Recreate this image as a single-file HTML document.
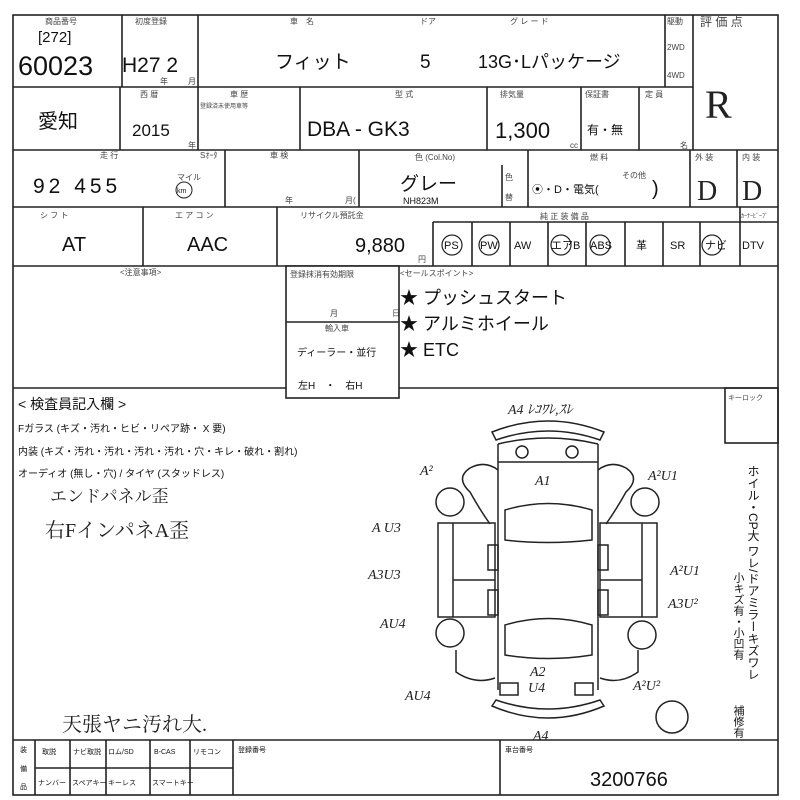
<!DOCTYPE html>
<html><head><meta charset="utf-8"><style>
body{margin:0;background:#fff;}
svg{display:block}
text{font-family:"Liberation Sans","Noto Sans CJK JP",sans-serif;fill:#111}
.s{font-size:8px;fill:#444}
.h{font-family:"Liberation Serif","Noto Serif CJK SC",serif;fill:#222}
</style></head><body>
<svg width="800" height="800" viewBox="0 0 800 800" xmlns="http://www.w3.org/2000/svg">
<g stroke="#222" stroke-width="1.6" fill="none">
<rect x="13" y="15" width="765" height="780"/>
<line x1="13" y1="87" x2="693" y2="87"/>
<line x1="13" y1="150" x2="778" y2="150"/>
<line x1="13" y1="207" x2="778" y2="207"/>
<line x1="13" y1="266" x2="778" y2="266"/>
<line x1="13" y1="388" x2="778" y2="388"/>
<line x1="13" y1="740" x2="778" y2="740"/>
<!-- row1 -->
<line x1="122" y1="15" x2="122" y2="87"/><line x1="198" y1="15" x2="198" y2="87"/>
<line x1="665" y1="15" x2="665" y2="87"/><line x1="693" y1="15" x2="693" y2="150"/>
<!-- row2 -->
<line x1="120" y1="87" x2="120" y2="150"/><line x1="198" y1="87" x2="198" y2="150"/>
<line x1="300" y1="87" x2="300" y2="150"/><line x1="487" y1="87" x2="487" y2="150"/>
<line x1="581" y1="87" x2="581" y2="150"/><line x1="639" y1="87" x2="639" y2="150"/>
<!-- row3 -->
<line x1="225" y1="150" x2="225" y2="207"/><line x1="359" y1="150" x2="359" y2="207"/>
<line x1="502" y1="165" x2="502" y2="207"/><line x1="528" y1="150" x2="528" y2="207"/>
<line x1="690" y1="150" x2="690" y2="207"/><line x1="737" y1="150" x2="737" y2="207"/>
<!-- row4 -->
<line x1="143" y1="207" x2="143" y2="266"/><line x1="277" y1="207" x2="277" y2="266"/>
<line x1="433" y1="222" x2="433" y2="266"/><line x1="433" y1="222" x2="778" y2="222"/>
<line x1="472" y1="222" x2="472" y2="266"/><line x1="510" y1="222" x2="510" y2="266"/>
<line x1="548" y1="222" x2="548" y2="266"/><line x1="586" y1="222" x2="586" y2="266"/>
<line x1="625" y1="222" x2="625" y2="266"/><line x1="663" y1="222" x2="663" y2="266"/>
<line x1="700" y1="222" x2="700" y2="266"/><line x1="740" y1="207" x2="740" y2="266"/>
<!-- notes box -->
<rect x="286" y="266" width="113" height="132" fill="#fff"/>
<line x1="286" y1="322" x2="399" y2="322"/>
<rect x="725" y="388" width="53" height="55"/>
<line x1="760" y1="443" x2="760" y2="740" stroke-width="0"/>
<!-- bottom -->
<line x1="35" y1="740" x2="35" y2="795"/><line x1="70" y1="740" x2="70" y2="795"/>
<line x1="106" y1="740" x2="106" y2="795"/><line x1="150" y1="740" x2="150" y2="795"/>
<line x1="190" y1="740" x2="190" y2="795"/><line x1="233" y1="740" x2="233" y2="795"/>
<line x1="35" y1="768" x2="233" y2="768"/>
<line x1="500" y1="740" x2="500" y2="795"/>
</g>
<!-- small headers -->
<text class="s" x="45" y="24">商品番号</text><text class="s" x="135" y="24">初度登録</text>
<text class="s" x="290" y="24">車　名</text><text class="s" x="420" y="24">ドア</text><text class="s" x="510" y="24">グ レ ー ド</text>
<text class="s" x="667" y="24">駆動</text><text class="s" x="700" y="26" style="font-size:12px">評 価 点</text>
<text class="s" x="667" y="50">2WD</text><text class="s" x="667" y="78">4WD</text>
<text class="s" x="160" y="84">年</text><text class="s" x="188" y="84">月</text>
<text class="s" x="140" y="97">西 暦</text><text class="s" x="230" y="97">車 歴</text><text class="s" x="200" y="108" style="font-size:6px">登録済未使用車等</text>
<text class="s" x="395" y="97">型 式</text><text class="s" x="500" y="97">排気量</text><text class="s" x="585" y="97">保証書</text><text class="s" x="645" y="97">定 員</text>
<text class="s" x="188" y="148">年</text><text class="s" x="570" y="148">cc</text><text class="s" x="680" y="148">名</text>
<text class="s" x="100" y="158">走 行</text><text class="s" x="200" y="158">Sｵｰﾀ</text><text class="s" x="270" y="158">車 検</text>
<text class="s" x="415" y="160">色 (Col.No)</text><text class="s" x="590" y="160">燃 料</text>
<text class="s" x="695" y="160">外 装</text><text class="s" x="742" y="160">内 装</text>
<text class="s" x="285" y="203">年</text><text class="s" x="345" y="203">月(</text><text class="s" x="505" y="180">色</text><text class="s" x="505" y="200">替</text>
<text class="s" x="40" y="218">シ フ ト</text><text class="s" x="175" y="218">エ ア コ ン</text><text class="s" x="300" y="218">リサイクル預託金</text>
<text class="s" x="540" y="219">純 正 装 備 品</text><text class="s" x="741" y="218" style="font-size:6px">ｶｰﾅｰﾋﾞｰﾌﾞ</text>
<text class="s" x="120" y="275">&lt;注意事項&gt;</text><text class="s" x="290" y="277">登録抹消有効期限</text>
<text class="s" x="400" y="276">&lt;セールスポイント&gt;</text>
<text class="s" x="330" y="316">月</text><text class="s" x="392" y="316">日</text><text class="s" x="325" y="331">輸入車</text>
<text x="297" y="356" style="font-size:10px">ディーラー・並行</text><text x="298" y="389" style="font-size:10px">左H　・　右H</text>
<text class="s" x="728" y="400" style="font-size:7px">キーロック</text>
<!-- values -->
<text x="38" y="42" style="font-size:15px">[272]</text>
<text x="18" y="75" style="font-size:27px">60023</text>
<text x="122" y="72" style="font-size:21px">H27 2</text>
<text x="275" y="68" style="font-size:19px">フィット</text>
<text x="420" y="68" style="font-size:19px">5</text>
<text x="478" y="68" style="font-size:18px">13G･Lパッケージ</text>
<text class="h" x="705" y="118" style="font-size:40px">R</text>
<text x="38" y="128" style="font-size:20px">愛知</text>
<text x="132" y="136" style="font-size:17px">2015</text>
<text x="307" y="136" style="font-size:21px">DBA  -    GK3</text>
<text x="495" y="138" style="font-size:22px">1,300</text>
<text x="587" y="134" style="font-size:12px">有・無</text>
<text x="33" y="193" style="font-size:21px" letter-spacing="4">92 455</text>
<circle cx="184" cy="190" r="8" fill="none" stroke="#222"/><text x="177" y="193" style="font-size:7px">km</text><text class="s" x="177" y="180">マイル</text>
<text x="400" y="190" style="font-size:19px">グレー</text><text x="403" y="204" style="font-size:9px">NH823M</text>
<text x="532" y="193" style="font-size:11px">⦿・D・電気(</text><text x="652" y="195" style="font-size:20px">)</text><text class="s" x="622" y="178">その他</text>
<text class="h" x="697" y="200" style="font-size:28px">D</text><text class="h" x="742" y="200" style="font-size:28px">D</text>
<text x="62" y="251" style="font-size:20px">AT</text>
<text x="187" y="251" style="font-size:20px">AAC</text>
<text x="355" y="252" style="font-size:20px">9,880</text><text class="s" x="418" y="262">円</text>
<g fill="none" stroke="#222" stroke-width="1.2">
<circle cx="452" cy="245" r="10"/><circle cx="489" cy="245" r="10"/><circle cx="561" cy="245" r="10"/><circle cx="600" cy="245" r="10"/><circle cx="712" cy="245" r="10"/>
</g>
<g style="font-size:11px">
<text x="444" y="249">PS</text><text x="480" y="249">PW</text><text x="514" y="249">AW</text><text x="551" y="249">エアB</text><text x="590" y="249">ABS</text><text x="636" y="249">革</text><text x="670" y="249">SR</text><text x="705" y="249">ナビ</text><text x="742" y="249">DTV</text>
</g>
<text x="400" y="304" style="font-size:18px">★ プッシュスタート</text>
<text x="400" y="330" style="font-size:18px">★ アルミホイール</text>
<text x="400" y="356" style="font-size:18px">★ ETC</text>
<text x="18" y="409" style="font-size:14px">&lt; 検査員記入欄 &gt;</text>
<text x="18" y="432" style="font-size:10px">Fガラス (キズ・汚れ・ヒビ・リペア跡・ X 要)</text>
<text x="18" y="455" style="font-size:10px">内装 (キズ・汚れ・汚れ・汚れ・汚れ・穴・キレ・破れ・割れ)</text>
<text x="18" y="477" style="font-size:10px">オーディオ (無し・穴) / タイヤ (スタッドレス)</text>
<text class="h" x="50" y="502" style="font-size:17px">エンドパネル歪</text>
<text class="h" x="45" y="537" style="font-size:20px">右FインパネΑ歪</text>
<text class="h" x="62" y="731" style="font-size:20px">天張ヤニ汚れ大.</text>
<!-- right vertical text -->
<text x="753" y="465" style="font-size:12px;writing-mode:vertical-rl">ホイル・CP大 ワレ/ドアミラーキズワレ</text>
<text x="738" y="572" style="font-size:11px;writing-mode:vertical-rl">小キズ有・小凹有</text>
<text x="738" y="705" style="font-size:11px;writing-mode:vertical-rl">補修有</text>
<!-- car diagram -->
<g fill="none" stroke="#222" stroke-width="1.5">
<path d="M492 432 Q548 410 604 432 L600 440 Q548 422 496 440 Z"/>
<path d="M498 444 Q548 432 598 444"/>
<path d="M498 444 L498 690 M598 444 L598 690"/>
<line x1="498" y1="462" x2="598" y2="462"/>
<circle cx="522" cy="452" r="6"/><circle cx="572" cy="452" r="6"/>
<path d="M505 510 Q548 497 592 510 L592 540 Q548 545 505 540 Z"/>
<path d="M505 625 Q548 612 592 625 L592 655 Q548 662 505 655 Z"/>
<path d="M492 706 Q548 730 604 706 L600 700 Q548 718 496 700 Z"/>
<rect x="500" y="683" width="18" height="12"/><rect x="575" y="683" width="18" height="12"/>
<path d="M498 470 Q485 460 470 468 Q455 478 470 492 Q480 510 490 524"/>
<path d="M598 470 Q611 460 626 468 Q641 478 626 492 Q616 510 606 524"/>
<circle cx="450" cy="502" r="14"/><circle cx="645" cy="502" r="14"/>
<circle cx="450" cy="633" r="14"/><circle cx="642" cy="635" r="14"/>
<rect x="438" y="523" width="57" height="94"/><line x1="453" y1="523" x2="453" y2="617"/><line x1="453" y1="580" x2="495" y2="580"/>
<rect x="600" y="523" width="57" height="94"/><line x1="642" y1="523" x2="642" y2="617"/><line x1="600" y1="580" x2="642" y2="580"/>
<rect x="488" y="545" width="10" height="25"/><rect x="488" y="590" width="10" height="25"/>
<rect x="598" y="545" width="10" height="25"/><rect x="598" y="590" width="10" height="25"/>
<path d="M456 650 L456 672 Q475 685 495 678"/><path d="M638 650 L638 672 Q620 685 600 678"/>
<circle cx="672" cy="717" r="16"/>
</g>
<g class="h" style="font-size:14px;font-style:italic">
<text class="h" x="508" y="414">A4 ﾚｺﾜﾚ,ｽﾚ</text>
<text class="h" x="420" y="475">A²</text><text class="h" x="535" y="485">A1</text><text class="h" x="648" y="480">A²U1</text>
<text class="h" x="372" y="532">A U3</text><text class="h" x="368" y="579">A3U3</text><text class="h" x="380" y="628">AU4</text>
<text class="h" x="670" y="575">A²U1</text><text class="h" x="668" y="608">A3U²</text>
<text class="h" x="405" y="700">AU4</text><text class="h" x="530" y="676">A2</text><text class="h" x="528" y="692">U4</text>
<text class="h" x="633" y="690">A²U²</text><text class="h" x="533" y="740">A4</text>
</g>
<!-- bottom table text -->
<g class="s" style="font-size:7px">
<text x="20" y="752">装</text><text x="20" y="771">備</text><text x="20" y="789">品</text>
<text x="42" y="754">取説</text><text x="73" y="754">ナビ取説</text><text x="108" y="754">ロム/SD</text><text x="154" y="754">B-CAS</text><text x="193" y="754">リモコン</text>
<text x="38" y="785">ナンバー</text><text x="72" y="785">スペアキー</text><text x="108" y="785">キーレス</text><text x="152" y="785">スマートキー</text>
<text x="238" y="752">登録番号</text><text x="505" y="752">車台番号</text>
</g>
<text x="590" y="786" style="font-size:20px">3200766</text>
</svg>
</body></html>
